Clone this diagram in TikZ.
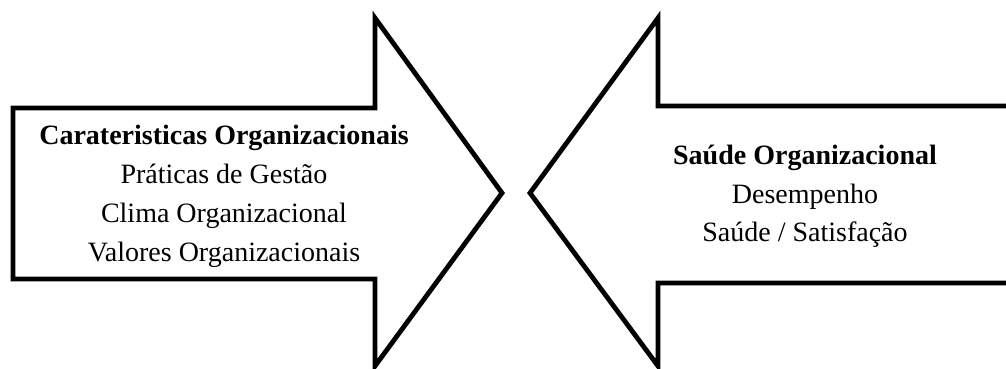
\documentclass[tikz,border=0pt]{standalone}
\usepackage{fontspec}
\setmainfont{Liberation Serif}
\begin{document}
\begin{tikzpicture}[x=1pt,y=-1pt,
  arrowshape/.style={draw=black,line width=4.8pt,line join=miter},
  txt/.style={anchor=base,inner sep=0pt,font=\fontsize{28}{34}\selectfont},
  btxt/.style={txt,font=\fontsize{28}{34}\selectfont\bfseries}]
\useasboundingbox (0,0) rectangle (1006,369);
% left arrow
\draw[arrowshape] (13,108) -- (375,108) -- (375,18) -- (502,193) -- (375,366) -- (375,279) -- (13,279) -- cycle;
% right arrow
\draw[arrowshape] (1030,106) -- (658,106) -- (658,18) -- (530,193) -- (658,366) -- (658,283) -- (1030,283);
% left text
\node[btxt] (l1) at (224,144) {Carateristicas Organizacionais};
\node[txt] (l2) at (224,183) {Práticas de Gestão};
\node[txt] (l3) at (224,222) {Clima Organizacional};
\node[txt] (l4) at (224,261) {Valores Organizacionais};
% right text
\node[btxt] (r1) at (805,164) {Saúde Organizacional};
\node[txt] (r2) at (805,203) {Desempenho};
\node[txt] (r3) at (805,241) {Saúde / Satisfação};
\end{tikzpicture}
\end{document}
